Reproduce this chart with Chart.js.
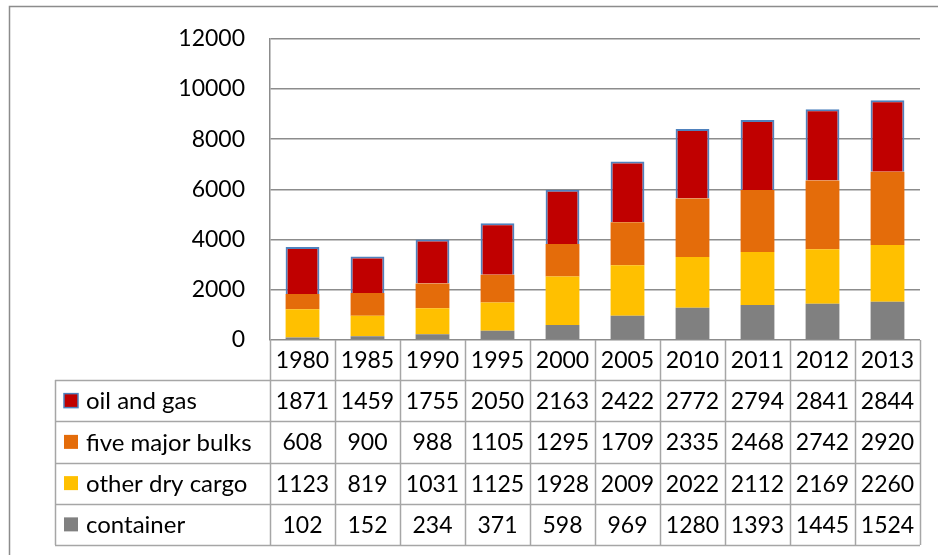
<!DOCTYPE html>
<html>
<head>
<meta charset="utf-8">
<script src="https://cdn.jsdelivr.net/npm/chart.js@4/dist/chart.umd.min.js"></script>
<style>
  html, body { margin: 0; padding: 0; background: #fff; }
  #wrap { width: 938px; height: 555px; }
</style>
</head>
<body>
<div id="wrap"><canvas id="cargoChart" width="938" height="555"></canvas></div>
<script>
const years = ['1980', '1985', '1990', '1995', '2000', '2005', '2010', '2011', '2012', '2013'];
const container = [102, 152, 234, 371, 598, 969, 1280, 1393, 1445, 1524];
const otherDryCargo = [1123, 819, 1031, 1125, 1928, 2009, 2022, 2112, 2169, 2260];
const fiveMajorBulks = [608, 900, 988, 1105, 1295, 1709, 2335, 2468, 2742, 2920];
const oilAndGas = [1871, 1459, 1755, 2050, 2163, 2422, 2772, 2794, 2841, 2844];
const yTicks = [0, 2000, 4000, 6000, 8000, 10000, 12000];

const FONT = 'Lato, "Open Sans", sans-serif';
const gridColor = '#8c8c8c';
const tableColor = '#a6a6a6';

// table rows in the order they appear under the chart
const tableRows = [
    { label: 'oil and gas', values: oilAndGas, color: '#c00000', border: '#4f81bd' },
    { label: 'five major bulks', values: fiveMajorBulks, color: '#e46c0a' },
    { label: 'other dry cargo', values: otherDryCargo, color: '#ffc000' },
    { label: 'container', values: container, color: '#808080' }
];

const frame = {
    id: 'frame',
    beforeDraw(chart) {
        const ctx = chart.ctx;
        ctx.save();
        ctx.strokeStyle = '#8c8c8c';
        ctx.lineWidth = 1.5;
        ctx.beginPath();
        ctx.moveTo(9.5, 560);
        ctx.lineTo(9.5, 6.5);
        ctx.lineTo(945, 6.5);
        ctx.stroke();
        ctx.restore();
    }
};

const dataTable = {
    id: 'dataTable',
    afterDraw(chart) {
        const ctx = chart.ctx;
        const x = chart.scales.x;
        const area = chart.chartArea;
        const colW = (area.right - area.left) / years.length;
        const headTop = area.bottom;
        const headBottom = headTop + 40;
        const rowH = 41.25;
        const tableLeft = 55;
        const tableBottom = headBottom + rowH * tableRows.length;

        ctx.save();
        ctx.strokeStyle = tableColor;
        ctx.lineWidth = 1.5;

        // header row: vertical separators
        ctx.beginPath();
        for (let i = 0; i <= years.length; i++) {
            const px = Math.round(area.left + colW * i) + 0.5;
            ctx.moveTo(px, headTop);
            ctx.lineTo(px, tableBottom);
        }
        // horizontal lines of the body
        for (let r = 0; r <= tableRows.length; r++) {
            const py = Math.round(headBottom + rowH * r) + 0.5;
            ctx.moveTo(tableLeft, py);
            ctx.lineTo(area.right, py);
        }
        ctx.moveTo(tableLeft + 0.5, headBottom);
        ctx.lineTo(tableLeft + 0.5, tableBottom);
        ctx.stroke();

        ctx.fillStyle = '#000';
        ctx.font = '23px ' + FONT;
        ctx.textBaseline = 'middle';
        ctx.textAlign = 'center';
        years.forEach((y, i) => {
            ctx.fillText(y, x.getPixelForValue(i), (headTop + headBottom) / 2 + 1);
        });

        tableRows.forEach((row, r) => {
            const cy = headBottom + rowH * r + rowH / 2 + 1;
            // legend key
            ctx.fillStyle = row.color;
            ctx.fillRect(64, cy - 8, 14, 14);
            if (row.border) {
                ctx.strokeStyle = row.border;
                ctx.lineWidth = 1.5;
                ctx.strokeRect(64, cy - 8, 14, 14);
            }
            ctx.fillStyle = '#000';
            ctx.textAlign = 'left';
            ctx.font = '24px ' + FONT;
            ctx.fillText(row.label, 86, cy);
            ctx.font = '23px ' + FONT;
            ctx.textAlign = 'center';
            row.values.forEach((v, i) => {
                ctx.fillText(String(v), x.getPixelForValue(i), cy);
            });
        });
        ctx.restore();
    }
};

new Chart(document.getElementById('cargoChart'), {
    type: 'bar',
    data: {
        labels: years,
        datasets: [
            { label: 'container', data: container, backgroundColor: '#808080', borderWidth: 0 },
            { label: 'other dry cargo', data: otherDryCargo, backgroundColor: '#ffc000', borderWidth: 0 },
            { label: 'five major bulks', data: fiveMajorBulks, backgroundColor: '#e46c0a', borderWidth: 0 },
            { label: 'oil and gas', data: oilAndGas, backgroundColor: '#c00000', borderColor: '#4f81bd', borderWidth: 2 }
        ]
    },
    options: {
        responsive: false,
        animation: false,
        layout: { padding: { top: 36, right: 18, bottom: 215, left: 0 } },
        datasets: { bar: { categoryPercentage: 1, barPercentage: 0.52 } },
        plugins: {
            legend: { display: false },
            tooltip: { enabled: false }
        },
        scales: {
            x: { display: false, stacked: true },
            y: {
                stacked: true,
                min: 0,
                max: 12000,
                afterBuildTicks(scale) {
                    scale.ticks = yTicks.map(v => ({ value: v }));
                },
                afterFit(scale) { scale.width = 270; },
                grid: { color: gridColor, lineWidth: 1.5, drawTicks: false },
                border: { color: gridColor, width: 1.5 },
                ticks: {
                    padding: 25,
                    color: '#000',
                    font: { family: FONT, size: 23 },
                    callback: v => String(v)
                }
            }
        }
    },
    plugins: [frame, dataTable]
});
</script>
</body>
</html>
